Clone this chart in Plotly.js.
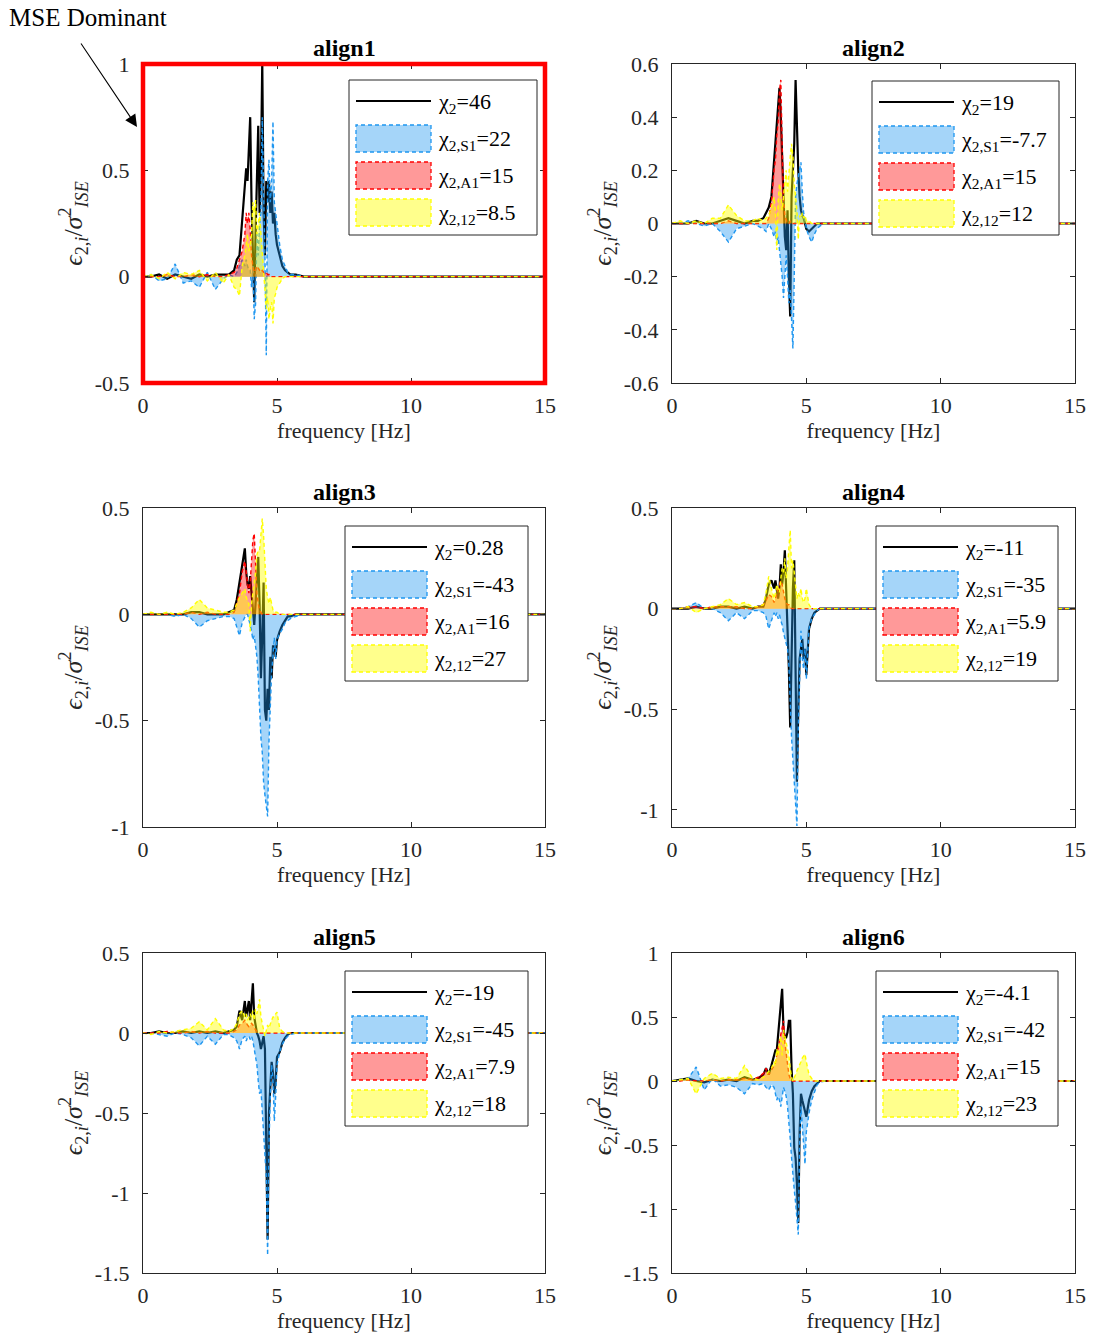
<!DOCTYPE html>
<html><head><meta charset="utf-8">
<script src="https://cdn.plot.ly/plotly-3.0.1.min.js"></script>
<style>html,body{margin:0;padding:0;background:#fff}</style>
</head><body><div id="chart" style="width:1095px;height:1342px"></div>
<script>
// frequency grid [Hz]
const freq = [0,0.3,0.6,0.9,1.2,1.5,1.8,2.1,2.4,2.7, 3.0,3.2,3.4,3.5,3.6,3.7, 3.8,3.85,3.9,3.95,4.0,4.05,4.1,4.15,4.2,4.25,4.3,4.35,4.4,4.45,4.5,4.55,4.6,4.65,4.7,4.75,4.8,4.85,4.9,4.95,5.0, 5.1,5.2,5.3,5.4,5.5, 5.7,6.0,7,9,11,13,15];

// align1
const a1_total = [0,0,0.01,-0.01,0.01,0,-0.01,0.01,0,0.01, 0.01,0.01,0.03,0.08,0.1,0.25, 0.4,0.51,0.45,0.6,0.75, 0.35,0.05,-0.12,0.2,0.55, 0.71,0.3,0.5,1.01,0.3, 0.1,0.45,0.35,0.45,0.3, 0.4,0.25,0.3,0.2,0.15, 0.1,0.05,0.03,0.02,0.01, 0.01,0,0,0,0,0,0];
const a1_S1 = [0,0.01,-0.02,-0.01,0.06,-0.03,-0.02,-0.05,0.02,-0.06, -0.01,0.01,0,0.02,0.05,0.08, 0.05,0.08,0.05,0.03,0.03, -0.05,0.05,-0.2,-0.13,0.2, 0.1,0.25,0.3,0.75,0.4, 0.1,-0.37,0.45,0.55,0.35, 0.45,0.73,0.35,0.3,0.25, 0.15,0.08,0.05,0.02,0.01, 0.01,0,0,0,0,0,0];
const a1_A1 = [0,0,0,0.01,0,0,0.01,0,0.01,0, 0,0.01,0.02,0.04,0.08,0.12, 0.2,0.3,0.25,0.3,0.22, 0.1,0.05,0.02,0.03,0.05, 0.04,0.03,0.02,0.03,0.02, 0.02,0.02,0.01,0.01,0, 0,0,0,0,0, 0,0,0,0,0, 0,0,0,0,0,0,0];
const a1_12 = [0,0.01,-0.01,0.02,-0.01,0.02,0.01,0.03,-0.02,0.02, -0.03,0.01,-0.05,-0.06,-0.09,0.05, 0.1,0.15,0.2,0.12,0.15, 0.2,0.35,0.3,0.36,0.2, 0.25,0.3,0.2,0.1,0.05, -0.05,-0.15,-0.1,-0.2,-0.15, -0.12,-0.22,-0.1,-0.08,-0.05, -0.03,-0.01,0,0,0, 0,0,0,0,0,0,0];

// align2
const a2_total = [0,0,0,0.01,0,0,0.01,0.02,0.01,0, 0.01,0.01,0.02,0.04,0.06,0.1, 0.25,0.3,0.36,0.45,0.51, 0.4,0.25,0.1,-0.05,-0.1, 0.05,-0.2,-0.35,0.1,0.2, 0.3,0.54,0.31,0.2,0.1, 0.05,0.03,0.02,0,-0.02, -0.03,-0.02,-0.01,0,0, 0,0,0,0,0,0,0];
const a2_S1 = [0,0,0.01,0,-0.01,0,-0.03,-0.07,-0.02,-0.01, 0,-0.01,-0.02,-0.03,0,-0.02, -0.05,-0.03,-0.08,-0.05,-0.1, -0.15,-0.2,-0.28,-0.2,-0.12, -0.2,-0.3,-0.25,-0.38,-0.47, -0.2,0.1,0.15,0.18,0.2, 0.23,0.12,0.04,0.02,-0.02, -0.05,-0.07,-0.04,-0.02,-0.01, 0,0,0,0,0,0,0];
const a2_A1 = [0,0,0,0,0,0,0,0.01,0,0, 0,0,0,0,0.02,0.08, 0.2,0.24,0.33,0.38,0.5, 0.54,0.3,0.1,0.03,0.01, 0,0,0.01,0,0, 0,0,0,0,0, 0,0,0,0,0, 0,0,0,0,0, 0,0,0,0,0,0,0];
const a2_12 = [0,0.01,0,0.01,0,0.02,0.02,0.07,0.03,0.01, 0.01,0.02,0.01,0.02,0.03,0.06, 0.1,0.05,-0.1,0.08,0.15, 0.12,0.05,0.1,0.15,0.2, 0.12,0.2,0.25,0.3,0.25, 0.15,0.1,0.05,-0.06,0.03, 0.02,0.04,0.02,0.03,0.01, 0.01,0,0,0,0, 0,0,0,0,0,0,0];

// align3
const a3_total = [0,0,0,0,0,0,0.01,0.01,0,0, 0,0.01,0.02,0.07,0.15,0.22, 0.31,0.2,0.14,0.12,0.18, 0.1,0.02,-0.05,0.05,0.18, 0.27,0.05,-0.3,-0.1,0.15, -0.45,-0.5,-0.35,-0.45,-0.2, -0.3,-0.15,-0.15,-0.2,-0.12, -0.08,-0.05,-0.03,-0.01,-0.01, 0,0,0,0,0,0,0];
const a3_S1 = [0,0,0,0,-0.01,0,-0.02,-0.06,-0.03,-0.02, -0.01,-0.01,-0.02,-0.06,-0.1,-0.04, -0.01,0,0,-0.02,-0.05, -0.08,-0.12,-0.1,-0.16,-0.2, -0.3,-0.45,-0.58,-0.65,-0.79, -0.85,-0.9,-0.95,-0.6,-0.4, -0.27,-0.2,-0.11,-0.21,-0.12, -0.09,-0.07,-0.04,-0.03,-0.02, -0.01,0,0,0,0,0,0];
const a3_A1 = [0,0,0,0,0,0,0.01,0,0.01,0, 0,0,0.01,0.05,0.1,0.2, 0.25,0.2,0.15,0.1,0.15, 0.25,0.35,0.38,0.2,0.1, 0.05,0.02,0.01,0,0, 0,0,0,0,0, 0,0,0,0,0, 0,0,0,0,0, 0,0,0,0,0,0,0];
const a3_12 = [0,0.01,0,0.01,0,0.01,0.03,0.07,0.03,0.02, 0.01,0.01,0.02,0.05,0.08,0.1, 0.12,0.08,0.06,0.05,-0.08, 0.05,0.1,0.15,0.2,0.28, 0.3,0.3,0.4,0.45,0.37, 0.25,0.12,0.08,0.05,0.08, 0.04,0.02,0.01,0.01,0.01, 0,0,0,0,0, 0,0,0,0,0,0,0];

// align4
const a4_total = [0,0,0,0.01,0,0,0.01,0.01,0,0.01, 0,0.01,0.01,0.05,0.12,0.14, 0.1,0.14,0.08,0.05,0.1, 0.22,0.12,0.18,0.29,0.1, -0.05,-0.3,-0.59,-0.2,0.1, 0.24,-0.3,-0.86,-0.5,-0.25, -0.2,-0.15,-0.25,-0.2,-0.33, -0.1,-0.05,-0.02,-0.01,0, 0,0,0,0,0,0,0];
const a4_S1 = [0,0,0.01,0.03,0,0,-0.02,-0.06,-0.02,-0.05, -0.01,-0.01,-0.02,-0.04,-0.1,-0.06, -0.02,-0.04,-0.02,-0.05,-0.03, -0.06,-0.08,-0.12,-0.15,-0.18, -0.2,-0.28,-0.5,-0.64,-0.75, -0.85,-0.95,-1.08,-0.6,-0.35, -0.11,-0.25,-0.3,-0.2,-0.35, -0.1,-0.05,-0.03,-0.01,0, 0,0,0,0,0,0,0];
const a4_A1 = [0,0,0.01,0.01,0,0.01,0.01,0.01,0.01,0, 0,0.01,0.02,0.04,0.07,0.06, 0.03,0.05,0.08,0.1,0.12, 0.14,0.12,0.08,0.05,0.03, 0.02,0.02,0.01,0,0, 0,0,0,0,0, 0,0,0,0,0, 0,0,0,0,0, 0,0,0,0,0,0,0];
const a4_12 = [0,0,0.01,-0.02,0,0.01,0.02,0.05,0.02,0.03, 0.01,0.01,0.02,0.08,0.16,0.1, 0.05,0.08,0.12,0.1,0.08, 0.15,0.2,0.18,0.25,0.15, 0.2,0.3,0.39,0.2,0.24, 0.18,0.1,0.05,0.08,0.06, 0.1,0.05,0.03,0.05,0.1, 0.02,0,0,0,0, 0,0,0,0,0,0,0];

// align5
const a5_total = [0,0,0.01,0,0,0.01,0,0.01,0,0.01, 0,0.01,0.02,0.04,0.14,0.08, 0.2,0.1,0.15,0.2,0.08, 0.2,0.31,0.1,0.05,0, -0.02,-0.05,-0.1,-0.05,-0.02, -0.1,-0.69,-1.29,-0.5,-0.3, -0.18,-0.25,-0.38,-0.3,-0.15, -0.12,-0.06,-0.03,-0.01,0, 0,0,0,0,0,0,0];
const a5_S1 = [0,0,-0.01,-0.02,0,-0.01,-0.03,-0.08,-0.02,-0.07, -0.01,-0.01,-0.03,-0.05,-0.1,-0.04, -0.02,-0.05,-0.03,-0.02,-0.04, -0.02,-0.05,-0.1,-0.15,-0.2, -0.3,-0.38,-0.35,-0.5,-0.6, -0.75,-0.9,-1.39,-0.7,-0.4, -0.2,-0.3,-0.55,-0.4,-0.2, -0.12,-0.07,-0.04,-0.02,-0.01, 0,0,0,0,0,0,0];
const a5_A1 = [0,0,0,0.01,0,0,0.01,0,0.01,0, 0,0,0.01,0.02,0.05,0.06, 0.08,0.06,0.05,0.04,0.05, 0.06,0.05,0.03,0.02,0.01, 0,0,0,0,0, 0,0,0,0,0, 0,0,0,0,0, 0,0,0,0,0, 0,0,0,0,0,0,0];
const a5_12 = [0,-0.01,0.01,0,0.01,0.02,0.03,0.07,0.02,0.09, 0.02,0.01,0.03,0.06,0.12,0.14, 0.1,0.12,0.08,0.1,0.12, 0.1,0.14,0.08,0.15,0.12, 0.18,0.21,0.1,0.05,0.02, -0.02,0.02,0.05,0.03,0.06, 0.08,0.1,0.1,0.12,0.13, 0.03,0.01,0,0,0, 0,0,0,0,0,0,0];

// align6
const a6_total = [0,0.01,0.02,0,-0.01,0.01,0,0.01,0,0.03, 0.01,0.02,0.05,0.1,0.05,0.12, 0.2,0.24,0.24,0.35,0.46, 0.55,0.72,0.4,0.34,0.34, 0.38,0.47,0.47,0.1,-0.1, -0.52,-0.6,-0.8,-1.11,-0.4, -0.1,-0.15,-0.2,-0.25,-0.28, -0.15,-0.08,-0.04,-0.02,0, 0,0,0,0,0,0,0];
const a6_S1 = [0,0.01,0.02,0.11,-0.07,0.02,-0.04,-0.03,-0.05,-0.1, -0.02,-0.03,-0.02,-0.05,-0.07,-0.03, -0.05,-0.1,-0.15,-0.12,-0.15, -0.2,-0.1,-0.05,-0.08,-0.12, -0.2,-0.3,-0.45,-0.6,-0.75, -0.85,-0.95,-1.05,-1.2,-0.5, -0.2,-0.35,-0.5,-0.65,-0.4, -0.25,-0.15,-0.08,-0.03,-0.01, 0,0,0,0,0,0,0];
const a6_A1 = [0,0,0.01,0,0,0.01,0,0.01,0.01,0.02, 0.01,0.03,0.06,0.1,0.05,0.08, 0.12,0.15,0.2,0.25,0.3, 0.35,0.4,0.47,0.3,0.2, 0.1,0.05,0.02,0,0, 0,0,0,0,0, 0,0,0,0,0, 0,0,0,0,0, 0,0,0,0,0,0,0];
const a6_12 = [0,0.01,0.02,-0.1,0.02,0.06,0.02,0.03,0.02,0.12, 0.02,0.01,0.03,0.05,0.08,0.1, 0.15,0.12,0.25,0.2,0.3, 0.35,0.2,0.4,0.35,0.3, 0.25,0.2,0.1,0.03,0, 0.02,0.05,0.08,0.1,0.12, 0.15,0.18,0.2,0.21,0.15, 0.05,0.02,0,0,0, 0,0,0,0,0,0,0];

// labels
const panelTitles = ['align1','align2','align3','align4','align5','align6'];
const chiTotal = ['46','19','0.28','-11','-19','-4.1'];
const chiS1 = ['22','-7.7','-43','-35','-45','-42'];
const chiA1 = ['15','15','16','5.9','7.9','15'];
const chi12 = ['8.5','12','27','19','18','23'];
const xTickVals = [0,5,10,15];
const xTickText = ['0','5','10','15'];
const yTickVals = [[-0.5,0,0.5,1],[-0.6,-0.4,-0.2,0,0.2,0.4,0.6],[-1,-0.5,0,0.5],[-1,-0.5,0,0.5],[-1.5,-1,-0.5,0,0.5],[-1.5,-1,-0.5,0,0.5,1]];
const yTickText = [['-0.5','0','0.5','1'],['-0.6','-0.4','-0.2','0','0.2','0.4','0.6'],['-1','-0.5','0','0.5'],['-1','-0.5','0','0.5'],['-1.5','-1','-0.5','0','0.5'],['-1.5','-1','-0.5','0','0.5','1']];

const series = [
  [a1_total,a1_S1,a1_A1,a1_12],
  [a2_total,a2_S1,a2_A1,a2_12],
  [a3_total,a3_S1,a3_A1,a3_12],
  [a4_total,a4_S1,a4_A1,a4_12],
  [a5_total,a5_S1,a5_A1,a5_12],
  [a6_total,a6_S1,a6_A1,a6_12]
];

// ---------- layout geometry (pixels) ----------
const W = 1095, H = 1342;
const px = x => x / W;
const py = y => 1 - y / H;
const colX = [[143,545],[672,1075]];
const rowY = [[64,383],[508,827],[953,1273]];
const yRanges = [[-0.5,1],[-0.6,0.6],[-1,0.5],[-1.085,0.5],[-1.5,0.5],[-1.5,1]];
const legBox = [[349,537,80,235],[872,1059,81,235],[345,528,526,681],[876,1058,526,681],[345,528,971,1126],[876,1058,971,1126]];

const FONT = 'Liberation Serif, Times New Roman, serif';
const AX = '#262626';
const styles = [
  {line:{color:'#000000', width:2.2}},
  {line:{color:'#1E96F0', width:1.4, dash:'4px,3px'}, fill:'tozeroy', fillcolor:'rgba(30,150,240,0.4)'},
  {line:{color:'#FF0000', width:1.4, dash:'4px,3px'}, fill:'tozeroy', fillcolor:'rgba(255,0,0,0.4)'},
  {line:{color:'#FFFF00', width:1.4, dash:'4px,3px'}, fill:'tozeroy', fillcolor:'rgba(255,255,0,0.45)'}
];
const names = ['χ<sub>2</sub>', 'χ<sub>2,S1</sub>', 'χ<sub>2,A1</sub>', 'χ<sub>2,12</sub>'];

const traces = [];
const layout = {
  width: W, height: H,
  margin: {l:0, r:0, t:0, b:0},
  paper_bgcolor: '#fff', plot_bgcolor: '#fff',
  showlegend: false,
  font: {family: FONT, size: 22, color: '#000'},
  shapes: [], annotations: []
};

for (let i = 0; i < 6; i++) {
  const col = i % 2, row = Math.floor(i / 2);
  const sfx = i === 0 ? '' : String(i + 1);
  const xa = 'x' + sfx, ya = 'y' + sfx;
  const [x0, x1] = colX[col];
  const [yt, yb] = rowY[row];
  const vals = [chiTotal[i], chiS1[i], chiA1[i], chi12[i]];
  for (let k = 0; k < 4; k++) {
    traces.push(Object.assign({
      type: 'scatter', mode: 'lines', x: freq, y: series[i][k],
      xaxis: xa, yaxis: ya, name: names[k] + '=' + vals[k], hoverinfo: 'skip'
    }, styles[k]));
  }
  layout['xaxis' + sfx] = {
    domain: [px(x0), px(x1)], range: [0, 15], anchor: ya,
    tickmode: 'array', tickvals: xTickVals, ticktext: xTickText,
    ticks: 'inside', ticklen: 5, tickcolor: AX, showline: true, mirror: 'ticks',
    linecolor: AX, linewidth: 1, showgrid: false, zeroline: false,
    tickfont: {family: FONT, size: 22, color: AX}, ticklabelstandoff: 3,
    title: {text: 'frequency [Hz]', font: {family: FONT, size: 22, color: AX}, standoff: 5}
  };
  layout['yaxis' + sfx] = {
    domain: [py(yb), py(yt)], range: yRanges[i], anchor: xa,
    tickmode: 'array', tickvals: yTickVals[i], ticktext: yTickText[i],
    ticks: 'inside', ticklen: 5, tickcolor: AX, showline: true, mirror: 'ticks',
    linecolor: AX, linewidth: 1, showgrid: false, zeroline: false,
    tickfont: {family: FONT, size: 22, color: AX}, ticklabelstandoff: 8,
    title: {text: '<i>ϵ</i><sub>2,<i>i</i></sub>/<i>σ</i><sup>2</sup><sub><i>ISE</i></sub>', font: {family: FONT, size: 26, color: AX}, standoff: 4}
  };
  // panel title
  layout.annotations.push({
    xref: 'paper', yref: 'paper', x: px((x0 + x1) / 2), y: py(yt - 16),
    xanchor: 'center', yanchor: 'middle', showarrow: false,
    text: '<b>' + panelTitles[i] + '</b>', font: {family: FONT, size: 24, color: '#000'}
  });
  // legend box
  const [lL, lR, lT, lB] = legBox[i];
  layout.shapes.push({type: 'rect', xref: 'paper', yref: 'paper', x0: px(lL), x1: px(lR), y0: py(lB), y1: py(lT),
    line: {color: AX, width: 1}, fillcolor: '#ffffff', layer: 'above'});
  layout.shapes.push({type: 'line', xref: 'paper', yref: 'paper', x0: px(lL + 7), x1: px(lL + 82), y0: py(lT + 21), y1: py(lT + 21),
    line: {color: '#000', width: 2}, layer: 'above'});
  for (let k = 1; k < 4; k++) {
    const top = lT + 45 + (k - 1) * 37;
    layout.shapes.push({type: 'rect', xref: 'paper', yref: 'paper', x0: px(lL + 7), x1: px(lL + 82), y0: py(top + 27), y1: py(top),
      line: {color: styles[k].line.color, width: 1.3, dash: '4px,3px'}, fillcolor: styles[k].fillcolor, layer: 'above'});
  }
  for (let k = 0; k < 4; k++) {
    const cy = lT + 21 + k * 37 + 2;
    layout.annotations.push({
      xref: 'paper', yref: 'paper', x: px(lL + 87), y: py(cy), xanchor: 'left', yanchor: 'middle',
      showarrow: false, text: names[k] + '=' + vals[k], font: {family: FONT, size: 22, color: '#000'}
    });
  }
}

// red highlight frame around align1
layout.shapes.push({type: 'rect', xref: 'paper', yref: 'paper', x0: px(143), x1: px(545), y0: py(383), y1: py(64),
  line: {color: '#FF0000', width: 4.5}, fillcolor: 'rgba(0,0,0,0)', layer: 'above'});

// "MSE Dominant" callout
layout.annotations.push({xref: 'paper', yref: 'paper', x: px(88), y: py(18), xanchor: 'center', yanchor: 'middle',
  showarrow: false, text: 'MSE Dominant', font: {family: FONT, size: 25, color: '#000'}});
layout.annotations.push({xref: 'paper', yref: 'paper', x: px(137), y: py(127), text: '',
  showarrow: true, arrowhead: 2, arrowsize: 2.2, arrowwidth: 1.1, arrowcolor: '#000', ax: -57, ay: -85, standoff: 0});

Plotly.newPlot('chart', traces, layout, {staticPlot: true, displayModeBar: false});
</script>
</body></html>
